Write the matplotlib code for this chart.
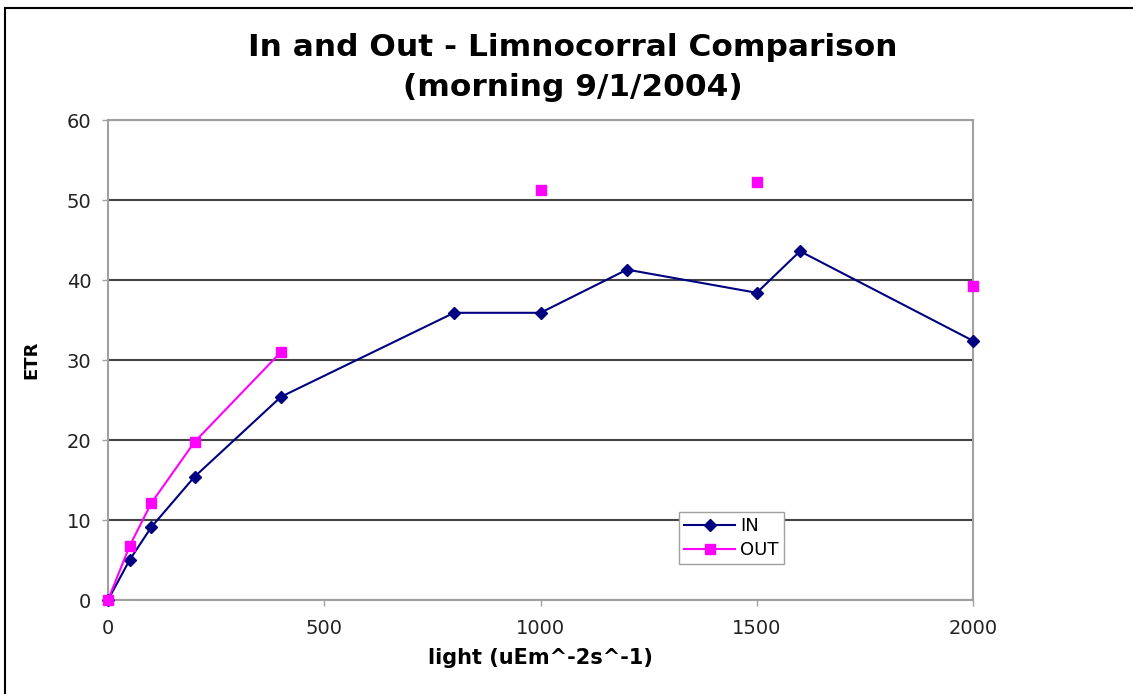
import numpy as np
import matplotlib
matplotlib.use("Agg")
import matplotlib.pyplot as plt
from matplotlib.patches import Rectangle

light = [0, 50, 100, 200, 400, 800, 1000, 1200, 1500, 1600, 2000]
etr_in = [0, 5.0, 9.1, 15.4, 25.4, 35.9, 35.9, 41.3, 38.4, 43.6, 32.4]
# OUT has no values at 800, 1200, 1600 (gaps in the line)
etr_out = [0, 6.75, 12.1, 19.75, 31.0, np.nan, 51.25, np.nan, 52.25, np.nan, 39.25]

fig = plt.figure(figsize=(11.33, 6.94), dpi=100)
ax = fig.add_axes([108/1133, 1 - 600/694, (973-108)/1133, 480/694])

# outer chart frame (cropped on the right and bottom)
fig.patches.append(Rectangle((5/1133, -0.05), 1.2, 1 - 8/694 + 0.05,
                             transform=fig.transFigure, fill=False,
                             edgecolor="black", linewidth=1.5))

ax.plot(light, etr_in, color="#000080", marker="D", markersize=6,
        linewidth=1.5, label="IN", clip_on=False, zorder=3)
ax.plot(light, etr_out, color="#ff00ff", marker="s", markersize=7,
        linewidth=1.5, label="OUT", clip_on=False, zorder=3)

ax.set_xlim(0, 2000)
ax.set_ylim(0, 60)
ax.set_xticks([0, 500, 1000, 1500, 2000])
ax.set_yticks(range(0, 61, 10))
ax.yaxis.grid(True, color="#444444", linewidth=1.5)
for s in ax.spines.values():
    s.set_color("#a0a0a0")
    s.set_linewidth(1.5)
ax.tick_params(axis="both", labelsize=14, colors="#a0a0a0", labelcolor="#222222",
               length=4, width=1)
ax.tick_params(axis="x", pad=10)
ax.tick_params(axis="y", pad=8)

ax.set_xlabel("light (uEm^-2s^-1)", fontsize=15, fontweight="bold", labelpad=7)
ax.set_ylabel("ETR", fontsize=13, fontweight="bold", labelpad=19)

fig.text(573/1133, 1 - 48/694, "In and Out - Limnocorral Comparison",
         ha="center", va="center", fontsize=22.5, fontweight="bold")
fig.text(573/1133, 1 - 87/694, "(morning 9/1/2004)",
         ha="center", va="center", fontsize=22.5, fontweight="bold")

leg = ax.legend(loc="upper left", bbox_to_anchor=((670-108)/865, (600-503)/480),
                fontsize=13, fancybox=False, framealpha=1, edgecolor="#a0a0a0",
                handlelength=2.8, borderpad=0.3, labelspacing=0.3,
                handletextpad=0.3)

fig.savefig("out.png", dpi=100)
